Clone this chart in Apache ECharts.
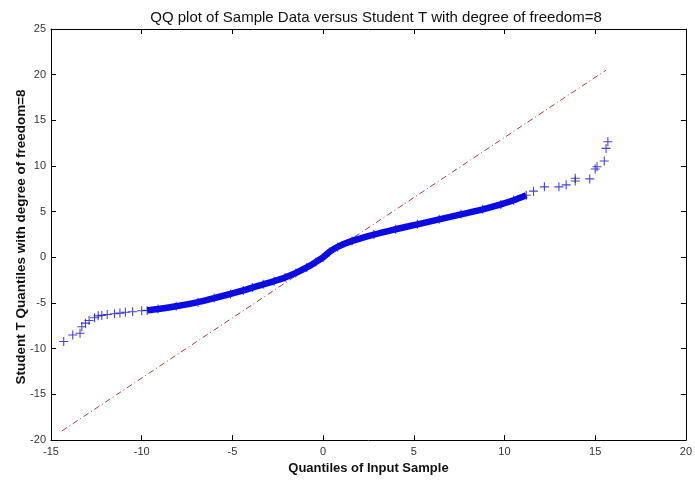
<!DOCTYPE html>
<html>
<head>
<meta charset="utf-8">
<script src="https://cdn.jsdelivr.net/npm/echarts@6/dist/echarts.min.js"></script>
<style>
  html, body { margin: 0; padding: 0; background: #fff; }
  #chart { width: 695px; height: 480px; }
</style>
</head>
<body>
<div id="chart"></div>
<script>
// sample quantiles (x) vs Student T quantiles (y)
const sampleX = [-14.3, -13.8, -13.4, -13.3, -13.1, -12.9, -12.6, -12.4, -12.2, -11.9,
  -11.5, -11.2, -10.9, -10.5, -10.0, -9.7, -9.1, -8.1, -6.9, -6.0,
  -5.1, -4.4, -3.9, -3.3, -2.7, -2.1, -1.5, -0.9, -0.4, 0.0,
  0.35, 0.8, 1.6, 2.8, 4.0, 5.2, 6.4, 7.6, 8.8, 9.8,
  10.5, 11.2, 11.6, 12.2, 13.0, 13.4, 13.9, 13.9, 14.7, 15.0,
  15.1, 15.5, 15.6, 15.7];
const sampleY = [-9.2, -8.5, -8.3, -7.6, -7.2, -6.9, -6.6, -6.4, -6.35, -6.25,
  -6.17, -6.1, -6.0, -5.95, -5.85, -5.8, -5.65, -5.35, -4.9, -4.45,
  -4.0, -3.62, -3.3, -2.95, -2.6, -2.2, -1.7, -1.1, -0.5, 0.0,
  0.6, 1.15, 1.8, 2.5, 3.08, 3.62, 4.17, 4.71, 5.26, 5.8,
  6.25, 6.8, 7.25, 7.72, 7.72, 7.94, 8.37, 8.66, 8.59, 9.68,
  9.93, 10.55, 11.93, 12.65];

// reference line end points
const refX = [-14.4, 15.6];
const refY = [-19.0, 20.5];

const xTicks = { min: -15, max: 20, step: 5 };
const yTicks = { min: -20, max: 25, step: 5 };

const points = sampleX.map((x, i) => [x, sampleY[i]]);
const core = points.filter(p => p[0] > -9.8 && p[0] < 11.3);
const refLine = refX.map((x, i) => [x, refY[i]]);

const plus = 'path://M4.4,0h1.2v4.4h4.4v1.2h-4.4v4.4h-1.2v-4.4h-4.4v-1.2h4.4z';
const font = 'Liberation Sans';

const chart = echarts.init(document.getElementById('chart'));

const tickAxis = (extra) => Object.assign({
  axisLine: { show: true, onZero: false, lineStyle: { color: '#000', width: 1 } },
  axisTick: { show: true, inside: true, length: 5, lineStyle: { color: '#000' } },
  splitLine: { show: false },
}, extra);

chart.setOption({
  animation: false,
  backgroundColor: '#fff',
  title: {
    text: 'QQ plot of Sample Data versus Student T with degree of freedom=8',
    left: 371, top: 5, textAlign: 'center',
    textStyle: { fontFamily: font, fontSize: 15, fontWeight: 'normal', color: '#111' }
  },
  grid: { left: 51, right: 3, top: 29, bottom: 37, show: false },
  xAxis: [
    tickAxis({
      type: 'value', min: xTicks.min, max: xTicks.max, interval: xTicks.step,
      position: 'bottom',
      axisLabel: { fontFamily: font, fontSize: 11, color: '#333', margin: 6 },
      name: 'Quantiles of Input Sample', nameLocation: 'middle', nameGap: 21,
      nameTextStyle: { fontFamily: font, fontSize: 13, fontWeight: 'bold', color: '#111' }
    }),
    tickAxis({
      type: 'value', min: xTicks.min, max: xTicks.max, interval: xTicks.step,
      position: 'top', axisLabel: { show: false }
    })
  ],
  yAxis: [
    tickAxis({
      type: 'value', min: yTicks.min, max: yTicks.max, interval: yTicks.step,
      position: 'left',
      axisLabel: { fontFamily: font, fontSize: 11, color: '#333', margin: 5 }
    }),
    tickAxis({
      type: 'value', min: yTicks.min, max: yTicks.max, interval: yTicks.step,
      position: 'right', axisLabel: { show: false }
    })
  ],
  graphic: [{
    type: 'text', x: 21, y: 237, rotation: Math.PI / 2,
    style: {
      text: 'Student T Quantiles with degree of freedom=8',
      fontFamily: font, fontSize: 13.5, fontWeight: 'bold', fill: '#111',
      align: 'center', verticalAlign: 'middle'
    }
  }],
  series: [
    {
      type: 'line', data: refLine, showSymbol: false, silent: true,
      lineStyle: { color: '#b23a48', width: 1, type: [6, 3, 1, 3] },
      z: 2
    },
    {
      type: 'line', data: core, showSymbol: false, smooth: 0.3, silent: true,
      lineStyle: { color: '#0a0ae6', width: 6.5, cap: 'butt', join: 'round' },
      z: 3
    },
    {
      type: 'scatter', data: points, symbol: plus, symbolSize: 9,
      itemStyle: { color: '#1414d6' },
      z: 4
    }
  ]
});
</script>
</body>
</html>
